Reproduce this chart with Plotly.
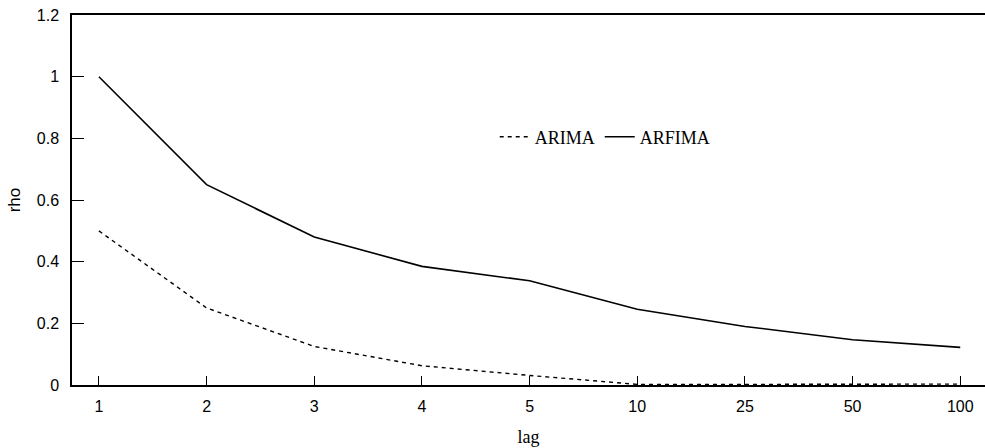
import plotly.graph_objects as go

lags = ["1", "2", "3", "4", "5", "10", "25", "50", "100"]
arima = [0.5, 0.25, 0.125, 0.0625, 0.031, 0.002, 0.002, 0.003, 0.003]
arfima = [1.0, 0.65, 0.48, 0.385, 0.338, 0.246, 0.19, 0.147, 0.122]

fig = go.Figure()
fig.add_trace(go.Scatter(x=lags, y=arima, mode="lines", name="ARIMA",
                         line=dict(color="black", width=1.4, dash="4px,4px")))
fig.add_trace(go.Scatter(x=lags, y=arfima, mode="lines", name="ARFIMA",
                         line=dict(color="black", width=1.6)))

fig.update_layout(
    width=985, height=448,
    margin=dict(l=72, r=0, t=15, b=63),
    paper_bgcolor="white", plot_bgcolor="white",
    showlegend=True,
    legend=dict(orientation="h", x=0.463, y=0.67, xanchor="left", yanchor="middle",
                font=dict(family="Liberation Serif", size=18, color="black"),
                bgcolor="rgba(0,0,0,0)", itemwidth=30, tracegroupgap=0),
    xaxis=dict(type="category", range=[-0.25, 8.23],
               showline=True, linecolor="black", linewidth=1.5, mirror=True,
               ticks="inside", ticklen=9, tickcolor="black", tickwidth=1.2,
               showgrid=False, zeroline=False, ticklabelstandoff=6,
               tickfont=dict(family="Liberation Sans", size=16, color="black"),
               title=dict(text="lag", font=dict(family="Liberation Serif", size=18, color="black"),
                          standoff=16)),
    yaxis=dict(range=[0, 1.2005], tickvals=[0, 0.2, 0.4, 0.6, 0.8, 1, 1.2],
               ticktext=["0", "0.2", "0.4", "0.6", "0.8", "1", "1.2"],
               showline=True, linecolor="black", linewidth=1.5,
               ticks="inside", ticklen=12, tickcolor="black", tickwidth=1.2,
               showgrid=False, zeroline=False, ticklabelstandoff=8,
               tickfont=dict(family="Liberation Sans", size=16, color="black"),
               title=dict(text="rho", font=dict(family="Liberation Sans", size=17, color="black"),
                          standoff=12)),
)

fig.write_html("out.html", config={"displayModeBar": False})

# remove the default page margin / scrollbars so the figure fills the window exactly
with open("out.html", "r", encoding="utf-8") as f:
    html = f.read()
html = html.replace("<body>", '<body style="margin:0;overflow:hidden">', 1)
with open("out.html", "w", encoding="utf-8") as f:
    f.write(html)
